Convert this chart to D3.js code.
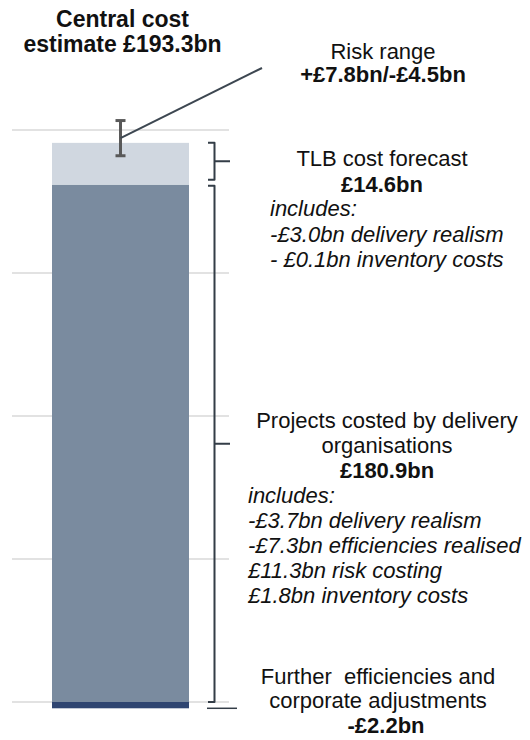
<!DOCTYPE html>
<html>
<head>
<meta charset="utf-8">
<script src="https://cdn.jsdelivr.net/npm/d3@7"></script>
<style>
  html, body { margin: 0; padding: 0; background: #fff; }
  svg { display: block; font-family: "Liberation Sans", Arial, sans-serif; }
  text { white-space: pre; fill: #111; }
</style>
</head>
<body>
<svg id="chart" width="530" height="740"></svg>
<script>
// ---- data ----
const categories = ["Central cost estimate"];
const segmentNames = ["Further efficiencies and corporate adjustments", "Projects costed by delivery organisations", "TLB cost forecast"];
const segmentValues = [-2.2, 180.9, 14.6];
const segmentColors = ["#2f4571", "#7a8b9f", "#d0d7e0"];
const riskUp = 7.8;
const riskDown = 4.5;
const gridTicks = [0, 50, 100, 150, 200];

(function () {
const svg = d3.select("#chart");
const y = d3.scaleLinear().domain([0, 200]).range([702, 130]);
const x = d3.scaleBand().domain(categories).range([52, 189]).padding(0);

// gridlines
svg.append("g").selectAll("line").data(gridTicks).join("line")
  .attr("x1", 12).attr("x2", 229)
  .attr("y1", d => y(d)).attr("y2", d => y(d))
  .attr("stroke", "#d9d9d9").attr("stroke-width", 1.5);

// stacked segments (negative below zero, positives stacked upward)
let posBase = 0, negBase = 0;
const segs = segmentValues.map((v, i) => {
  let y0, y1;
  if (v >= 0) { y0 = posBase; y1 = posBase + v; posBase = y1; }
  else { y0 = negBase + v; y1 = negBase; negBase = y0; }
  return { name: segmentNames[i], value: v, y0, y1, color: segmentColors[i] };
});
svg.append("g").selectAll("rect").data(segs).join("rect")
  .attr("x", x(categories[0])).attr("width", x.bandwidth())
  .attr("y", d => y(d.y1)).attr("height", d => y(d.y0) - y(d.y1))
  .attr("fill", d => d.color);

const stackTop = posBase;
const cx = x(categories[0]) + x.bandwidth() / 2;

// error bar
const eTop = y(stackTop + riskUp), eBot = y(stackTop - riskDown);
const eg = svg.append("g").attr("stroke", "#595959").attr("stroke-width", 3);
eg.append("line").attr("x1", cx).attr("x2", cx).attr("y1", eTop).attr("y2", eBot);
eg.append("line").attr("x1", cx - 5).attr("x2", cx + 5).attr("y1", eTop).attr("y2", eTop);
eg.append("line").attr("x1", cx - 5).attr("x2", cx + 5).attr("y1", eBot).attr("y2", eBot);

// leader line
svg.append("line")
  .attr("x1", cx).attr("y1", (eTop + eBot) / 2)
  .attr("x2", 262).attr("y2", 68)
  .attr("stroke", "#3d4751").attr("stroke-width", 2);

// brackets
const bx = 214.5, hx = 208, tx = 230;
function bracket(yt, yb) {
  const mid = (yt + yb) / 2;
  svg.append("path")
    .attr("d", `M${hx},${yt}H${bx}V${yb}H${hx}M${bx},${mid}H${tx}`)
    .attr("fill", "none").attr("stroke", "#333d47").attr("stroke-width", 2)
    .attr("stroke-linejoin", "round");
}
bracket(y(segs[2].y1), y(segs[2].y0) - 5);
bracket(y(segs[1].y1) + 1, y(segs[1].y0));
svg.append("line")
  .attr("x1", 207).attr("x2", 237)
  .attr("y1", y(segs[0].y0)).attr("y2", y(segs[0].y0))
  .attr("stroke", "#333d47").attr("stroke-width", 1.5);

// text
function txt(str, xx, yy, opts = {}) {
  svg.append("text").attr("x", xx).attr("y", yy)
    .attr("text-anchor", opts.anchor || "middle")
    .attr("font-size", opts.size || 22)
    .attr("font-weight", opts.bold ? "bold" : "normal")
    .attr("font-style", opts.italic ? "italic" : "normal")
    .text(str);
}
txt("Central cost", 122.5, 27, { bold: true, size: 23 });
txt("estimate £193.3bn", 122.5, 52, { bold: true, size: 23 });

txt("Risk range", 383, 59);
txt("+£7.8bn/-£4.5bn", 383, 82, { bold: true });

txt("TLB cost forecast", 382, 166);
txt("£14.6bn", 382, 191.5, { bold: true });
txt("includes:", 270, 216, { anchor: "start", italic: true });
txt("-£3.0bn delivery realism", 270, 241.5, { anchor: "start", italic: true });
txt("- £0.1bn inventory costs", 270, 266.5, { anchor: "start", italic: true });

txt("Projects costed by delivery", 387, 428);
txt("organisations", 387, 453);
txt("£180.9bn", 387, 478, { bold: true });
txt("includes:", 248, 503, { anchor: "start", italic: true });
txt("-£3.7bn delivery realism", 248, 528, { anchor: "start", italic: true });
txt("-£7.3bn efficiencies realised", 248, 553, { anchor: "start", italic: true });
txt("£11.3bn risk costing", 248, 578, { anchor: "start", italic: true });
txt("£1.8bn inventory costs", 248, 603, { anchor: "start", italic: true });

txt("Further  efficiencies and", 378, 684);
txt("corporate adjustments", 378, 708);
txt("-£2.2bn", 386, 733, { bold: true });
})();
</script>
</body>
</html>
